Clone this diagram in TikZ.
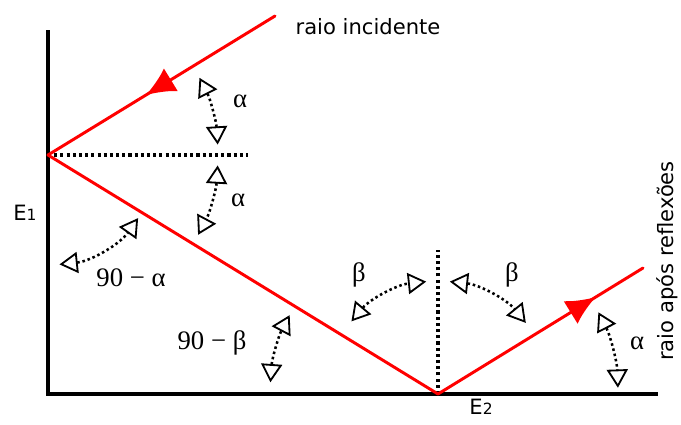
\documentclass[tikz,border=0pt]{standalone}
\usepackage{fontspec}
\setmainfont{DejaVu Sans}
\newfontfamily\greekfont{Liberation Serif}
\usetikzlibrary{arrows.meta,decorations.markings}

\begin{document}
\begin{tikzpicture}[x=0.025cm,y=0.025cm,
  mirror/.style={line width=2.4pt,line join=miter},
  ray/.style={red,line width=2.1pt,line cap=round},
  guide/.style={line width=2.4pt,dash pattern=on 2.2pt off 2.2pt},
  angletip/.tip={Triangle[open,length=13pt,width=15pt,line width=1.3pt]},
  anglearc/.style={line width=1.8pt,dash pattern=on 1.8pt off 2pt,angletip-angletip},
  midarrow/.style={postaction={decorate},decoration={markings,
    mark=at position #1 with {\arrow{Latex[length=21pt,width=19pt]}}}},
  greek/.style={font=\greekfont\fontsize{19}{21}\selectfont},
  caption/.style={font=\fontsize{15}{17}\selectfont}]
\useasboundingbox (0,0) rectangle (681,424);

\coordinate (top) at (48,394);
\coordinate (corner) at (48,30);
\coordinate (right) at (658,30);
\coordinate (hitA) at (48,269);
\coordinate (hitB) at (438,30);
\coordinate (src) at (275,408);
\coordinate (out) at (643,156);
\coordinate (normA) at (248,269);
\coordinate (normB) at (438,174);

\draw[mirror] (top) -- (corner) -- (right);
\draw[guide] (hitA) -- (normA);
\draw[guide] (hitB) -- (normB);

\draw[ray,midarrow=0.57] (src) -- (hitA);
\draw[ray] (hitA) -- (hitB);
\draw[ray,midarrow=0.77] (hitB) -- (out);

\foreach \c/\r/\a/\b in {hitA/170/27/3.5, hitA/170/-3.5/-28, hitA/110/-84/-35,
    hitB/168/176/152, hitB/113/140/96, hitB/113/84/39, hitB/180/27/2}{
    \draw[anglearc] ([shift={(\a:\r)}]\c) arc[start angle=\a, end angle=\b, radius=\r];
}

\node[caption] (incLabel) at (368,397) {raio incidente};
\node[caption,rotate=90] (outLabel) at (667,163) {raio após reflexões};
\node[caption] (mirrorA) at (25,211) {E{\fontsize{11}{11}\selectfont 1}};
\node[caption] (mirrorB) at (481,17) {E{\fontsize{11}{11}\selectfont 2}};

\node[greek] (alphaTop) at (240,323) {α};
\node[greek] (alphaMid) at (238,224) {α};
\node[greek] (compA) at (131,146) {90 − α};
\node[greek] (compB) at (212,81) {90 − β};
\node[greek] (betaL) at (359,149) {β};
\node[greek] (betaR) at (512,149) {β};
\node[greek] (alphaOut) at (637,81) {α};
\end{tikzpicture}
\end{document}
